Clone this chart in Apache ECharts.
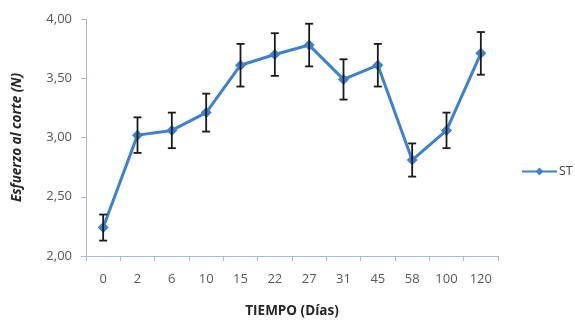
<!DOCTYPE html>
<html>
<head>
<meta charset="utf-8">
<script src="https://cdn.jsdelivr.net/npm/echarts@6/dist/echarts.min.js"></script>
<style>html,body{margin:0;padding:0;background:#fff;}#c{width:575px;height:320px;}</style>
</head>
<body>
<div id="c"></div>
<script>
var categories = ['0','2','6','10','15','22','27','31','45','58','100','120'];
var values = [2.24, 3.02, 3.06, 3.21, 3.61, 3.70, 3.78, 3.49, 3.61, 2.81, 3.06, 3.71];
var errors = [0.11, 0.15, 0.15, 0.16, 0.18, 0.18, 0.18, 0.17, 0.18, 0.14, 0.15, 0.18];
var yTicks = [2.0, 2.5, 3.0, 3.5, 4.0];

var errData = values.map(function(v,i){ return [i, v - errors[i], v + errors[i]]; });

var chart = echarts.init(document.getElementById('c'));
var font = 'Open Sans';
chart.setOption({
  animation: false,
  backgroundColor: '#fff',
  grid: {left: 86, right: 77, top: 19, bottom: 64, containLabel: false, outerBoundsMode: 'none'},
  legend: {
    data: ['ST'], left: 521, top: 165, orient: 'vertical', padding: 0,
    itemWidth: 35, itemHeight: 10, itemGap: 4,
    textStyle: {color: '#404040', fontSize: 12.5, fontFamily: font, padding: [0,0,0,-3], overflow: 'none'}
  },
  xAxis: {
    type: 'category', data: categories, boundaryGap: true,
    name: 'TIEMPO (Días)', nameLocation: 'middle', nameGap: 48,
    nameTextStyle: {fontWeight: 'bold', fontSize: 13.5, color: '#262626', fontFamily: font},
    axisLine: {lineStyle: {color: '#a9bccd', width: 1}},
    axisTick: {show: true, alignWithLabel: false, length: 5, lineStyle: {color: '#a9bccd'}},
    axisLabel: {color: '#595959', fontSize: 13, margin: 17, fontFamily: font},
    splitLine: {show: false}
  },
  yAxis: {
    type: 'value', min: yTicks[0], max: yTicks[yTicks.length-1], interval: 0.5,
    name: 'Esfuerzo al corte (N)', nameLocation: 'middle', nameGap: 62,
    nameTextStyle: {fontWeight: 'bold', fontStyle: 'italic', fontSize: 13.5, color: '#262626', fontFamily: font},
    axisLine: {show: true, lineStyle: {color: '#a9bccd', width: 1}},
    axisTick: {show: true, length: 5, lineStyle: {color: '#a9bccd'}},
    axisLabel: {color: '#595959', fontSize: 13, margin: 14, fontFamily: font,
      formatter: function(v){ return v.toFixed(2).replace('.', ','); }},
    splitLine: {show: false}
  },
  series: [
    {
      name: 'ST', type: 'line', data: values, z: 3,
      symbol: 'diamond', symbolSize: 11,
      lineStyle: {color: '#3d82cc', width: 3},
      itemStyle: {color: '#3d82cc'}
    },
    {
      name: 'err', type: 'custom', z: 4, data: errData,
      renderItem: function(params, api){
        var x = api.value(0);
        var lo = api.coord([x, api.value(1)]);
        var hi = api.coord([x, api.value(2)]);
        var w = 4;
        var st = {stroke: '#1a1a1a', lineWidth: 1.8};
        return {type: 'group', children: [
          {type: 'line', shape: {x1: lo[0], y1: lo[1], x2: hi[0], y2: hi[1]}, style: st},
          {type: 'line', shape: {x1: lo[0]-w, y1: lo[1], x2: lo[0]+w, y2: lo[1]}, style: st},
          {type: 'line', shape: {x1: hi[0]-w, y1: hi[1], x2: hi[0]+w, y2: hi[1]}, style: st}
        ]};
      }
    }
  ]
});
</script>
</body>
</html>
